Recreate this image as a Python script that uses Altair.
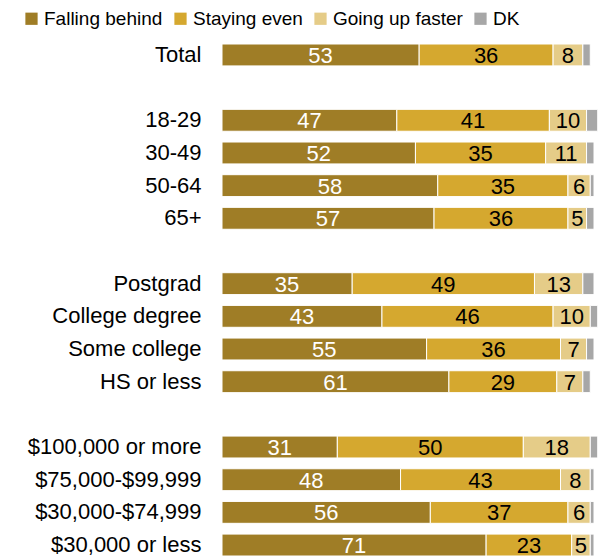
import altair as alt
import pandas as pd

groups = ["Total", "18-29", "30-49", "50-64", "65+", "Postgrad", "College degree",
          "Some college", "HS or less", "$100,000 or more", "$75,000-$99,999",
          "$30,000-$74,999", "$30,000 or less"]
falling = [53, 47, 52, 58, 57, 35, 43, 55, 61, 31, 48, 56, 71]
even = [36, 41, 35, 35, 36, 49, 46, 36, 29, 50, 43, 37, 23]
faster = [8, 10, 11, 6, 5, 13, 10, 7, 7, 18, 8, 6, 5]
dk = [2, 3, 2, 1, 2, 3, 2, 2, 2, 2, 1, 1, 1]

series = ["Falling behind", "Staying even", "Going up faster", "DK"]
colors = ["#9f7d26", "#d5a82f", "#e5cc88", "#a7a7a7"]
text_colors = ["white", "black", "black", "black"]

row_order = ["Total", " ",
             "18-29", "30-49", "50-64", "65+", "  ",
             "Postgrad", "College degree", "Some college", "HS or less", "   ",
             "$100,000 or more", "$75,000-$99,999", "$30,000-$74,999", "$30,000 or less"]

rows = []
for i, g in enumerate(groups):
    for j, (s, vals) in enumerate(zip(series, [falling, even, faster, dk])):
        rows.append({"group": g, "series": s, "value": vals[i], "order": j,
                     "tcolor": text_colors[j]})
df = pd.DataFrame(rows)

y_enc = alt.Y("group:N", scale=alt.Scale(domain=row_order, paddingInner=0.33, paddingOuter=0),
              axis=alt.Axis(title=None, ticks=False, domain=False, labelFontSize=22,
                            labelFont="Liberation Sans", labelColor="#000000",
                            labelPadding=21, labelLimit=300))

base = alt.Chart(df).transform_stack(
    stack="value", as_=["x0", "x1"], groupby=["group"], sort=[alt.SortField("order")]
).transform_calculate(mid="(datum.x0 + datum.x1) / 2")

bars = base.mark_bar(stroke="white", strokeWidth=1).encode(
    x=alt.X("x0:Q", scale=alt.Scale(domain=[0, 100]), axis=None),
    x2="x1:Q",
    y=y_enc,
    color=alt.Color("series:N", scale=alt.Scale(domain=series, range=colors),
                    legend=alt.Legend(title=None, orient="none", direction="horizontal",
                                      legendX=-200, legendY=-35, symbolType="square",
                                      symbolSize=150, symbolStrokeWidth=0,
                                      labelFontSize=19, labelFont="Liberation Sans",
                                      labelColor="#000000", columnPadding=8,
                                      labelOffset=3, padding=0)),
)

labels = base.transform_filter(alt.datum.series != "DK").mark_text(
    fontSize=22, font="Liberation Sans", baseline="middle", align="center", dy=1
).encode(
    x=alt.X("mid:Q", scale=alt.Scale(domain=[0, 100]), axis=None),
    y=alt.Y("group:N", scale=alt.Scale(domain=row_order)),
    text=alt.Text("value:Q"),
    color=alt.Color("tcolor:N", scale=None),
)

chart = (bars + labels).properties(
    width=372, height=512,
    autosize=alt.AutoSizeParams(type="none"),
    padding={"left": 214, "top": 36, "right": 8, "bottom": 4},
).configure_view(stroke=None)

chart.save("out.html", embed_options={"renderer": "svg", "actions": False})
